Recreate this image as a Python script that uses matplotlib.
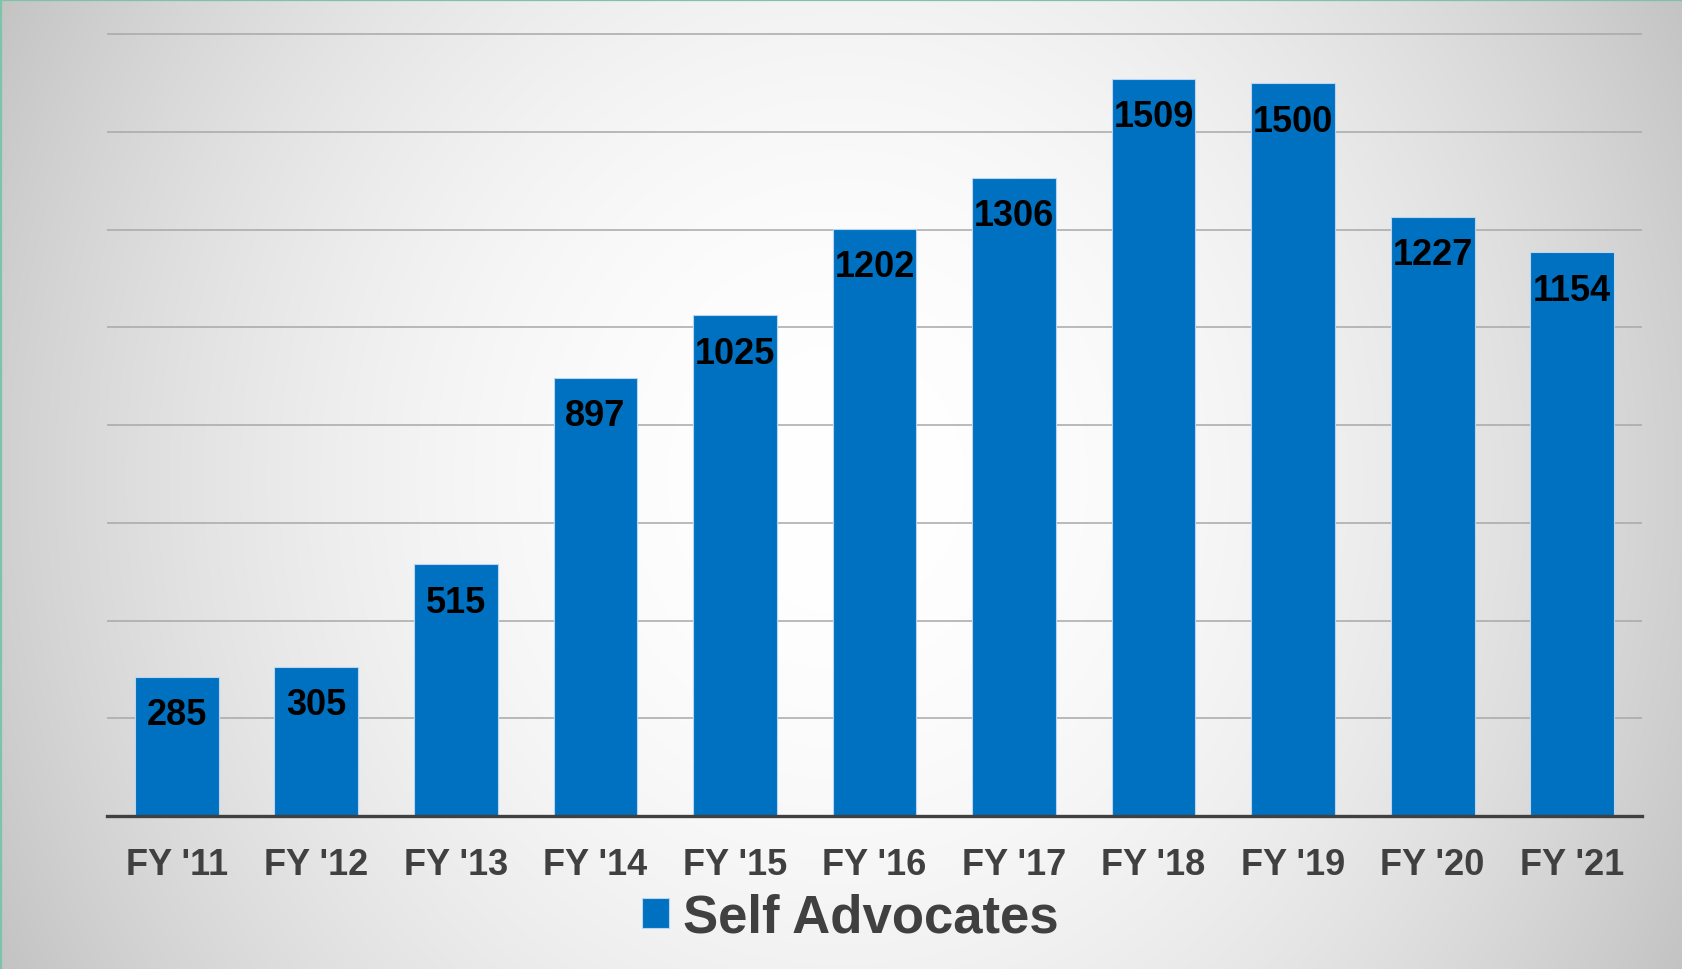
import numpy as np
import matplotlib
matplotlib.use("Agg")
import matplotlib.pyplot as plt
from matplotlib.lines import Line2D

plt.rcParams['font.family'] = ['Liberation Sans', 'DejaVu Sans']

years = ["FY '11", "FY '12", "FY '13", "FY '14", "FY '15", "FY '16",
         "FY '17", "FY '18", "FY '19", "FY '20", "FY '21"]
self_advocates = [285, 305, 515, 897, 1025, 1202, 1306, 1509, 1500, 1227, 1154]
grid_ticks = [0, 200, 400, 600, 800, 1000, 1200, 1400, 1600]

bar_color = '#0070C0'
text_dark = '#404040'

W, H = 1683, 970
fig = plt.figure(figsize=(W / 100, H / 100), dpi=100)

# radial-ish grey background, light in the middle
bg = fig.add_axes([0, 0, 1, 1], zorder=-10)
yy, xx = np.mgrid[0:H, 0:W]
dx = (xx - W / 2) / (W / 2)
dy = (yy - 480) / 485.0
shade = 255 - 47 * dx ** 2 - 13 * dy ** 2
shade = np.clip(shade, 0, 255) / 255.0
bg.imshow(np.dstack([shade, shade, shade]), aspect='auto', extent=[0, 1, 0, 1])
bg.set_axis_off()

ax = fig.add_axes([107 / W, 153 / H, 1535 / W, 791.5 / H])
ax.patch.set_alpha(0)

x = np.arange(len(years))
bars = ax.bar(x, self_advocates, width=0.6, color=bar_color,
              edgecolor='#b8d6f2', linewidth=0.8, label='Self Advocates', zorder=3)

for xi, v in zip(x, self_advocates):
    ax.annotate(str(v), xy=(xi, v), xytext=(0, -34.2), textcoords='offset points',
                ha='center', va='baseline', fontsize=26, fontweight='bold',
                color='black', zorder=4)

ax.set_xlim(-0.5, len(years) - 0.5)
ax.set_ylim(0, 1620)
ax.set_yticks(grid_ticks)
ax.yaxis.grid(True, color='#a8a8a8', linewidth=1.1)
ax.set_axisbelow(True)
ax.tick_params(axis='y', length=0, labelleft=False)
ax.set_xticks(x)
ax.set_xticklabels(years, fontsize=26, fontweight='bold', color=text_dark)
ax.tick_params(axis='x', length=0, pad=22)

for side in ['top', 'right', 'left']:
    ax.spines[side].set_visible(False)
ax.spines['bottom'].set_color(text_dark)
ax.spines['bottom'].set_linewidth(2.4)
ax.spines['bottom'].set_zorder(5)

leg = ax.legend(loc='center', bbox_to_anchor=(850 / W, (H - 919) / H),
                bbox_transform=fig.transFigure, frameon=False,
                prop={'size': 38, 'weight': 'bold'},
                handlelength=0.51, handleheight=0.51, handletextpad=0.26,
                borderpad=0, borderaxespad=0)
for t in leg.get_texts():
    t.set_color(text_dark)

# thin teal frame on left and top edge
fig.add_artist(Line2D([1 / W, 1 / W], [0, 1], color='#7cc4a8', linewidth=1.6))
fig.add_artist(Line2D([0, 1], [1 - 1 / H, 1 - 1 / H], color='#7cc4a8', linewidth=1.6))

fig.savefig('out.png', dpi=100)
